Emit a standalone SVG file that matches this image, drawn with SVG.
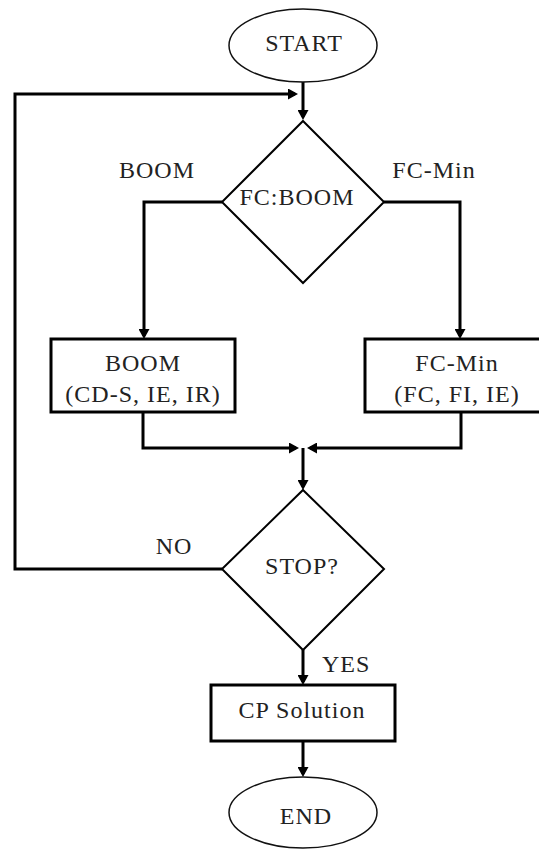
<svg xmlns="http://www.w3.org/2000/svg" width="539" height="850" viewBox="0 0 539 850">
  <style>
    .t { font-family: "Liberation Serif", "Times New Roman", serif; font-size: 24px; fill: #222; text-anchor: middle; letter-spacing: 1px; }
    .lbl { font-family: "Liberation Serif", "Times New Roman", serif; font-size: 24px; fill: #222; letter-spacing: 1px; }
    .term { fill: #fff; stroke: #111; stroke-width: 1.5; }
    .box { fill: #fff; stroke: #000; stroke-width: 3; }
    .dia { fill: #fff; stroke: #000; stroke-width: 2; }
    .conn { fill: none; stroke: #000; stroke-width: 3; }
  </style>
  <defs>
    <marker id="arr" markerUnits="userSpaceOnUse" markerWidth="10" markerHeight="11" refX="7" refY="5.5" orient="auto">
      <path d="M0,0 L10,5.5 L0,11 z" fill="#000"/>
    </marker>
  </defs>
  <rect width="539" height="850" fill="#fff"/>

  <g id="connectors">
    <path class="conn" d="M303,82 L303,117" marker-end="url(#arr)"/>
    <path class="conn" d="M222,569 L15,569 L15,94 L295,94" marker-end="url(#arr)"/>
    <path class="conn" d="M222,202 L144,202 L144,336" marker-end="url(#arr)"/>
    <path class="conn" d="M384,202 L460,202 L460,336" marker-end="url(#arr)"/>
    <path class="conn" d="M143,412 L143,448 L296,448" marker-end="url(#arr)"/>
    <path class="conn" d="M461,412 L461,448 L310,448" marker-end="url(#arr)"/>
    <path class="conn" d="M303,448 L303,487" marker-end="url(#arr)"/>
    <path class="conn" d="M303,650 L303,682" marker-end="url(#arr)"/>
    <path class="conn" d="M303,741 L303,774" marker-end="url(#arr)"/>
  </g>

  <g id="start">
    <ellipse class="term" cx="303" cy="45.5" rx="74" ry="36.5"/>
    <text class="t" x="304" y="51">START</text>
  </g>

  <g id="decision-fc-boom">
    <polygon class="dia" points="303,121 384,202 303,283 222,202"/>
    <text class="t" x="297" y="205">FC:BOOM</text>
  </g>

  <g id="boom">
    <rect class="box" x="51" y="339" width="184" height="73"/>
    <text class="t" x="143" y="371">BOOM</text>
    <text class="t" x="143" y="402">(CD-S, IE, IR)</text>
  </g>

  <g id="fc-min">
    <rect class="box" x="365" y="339" width="185" height="73"/>
    <text class="t" x="457" y="371">FC-Min</text>
    <text class="t" x="457" y="402">(FC, FI, IE)</text>
  </g>

  <g id="decision-stop">
    <polygon class="dia" points="303,490 384,569 303,650 222,569"/>
    <text class="t" x="302" y="574">STOP?</text>
  </g>

  <g id="cp-solution">
    <rect class="box" x="211" y="685" width="184" height="56"/>
    <text class="t" x="302" y="718">CP Solution</text>
  </g>

  <g id="end">
    <ellipse class="term" cx="303" cy="812.5" rx="74" ry="35.5"/>
    <text class="t" x="306" y="824">END</text>
  </g>

  <g id="labels">
    <text class="t" x="157" y="178">BOOM</text>
    <text class="t" x="434" y="178">FC-Min</text>
    <text class="t" x="174" y="554">NO</text>
    <text class="lbl" x="322" y="672">YES</text>
  </g>
</svg>
